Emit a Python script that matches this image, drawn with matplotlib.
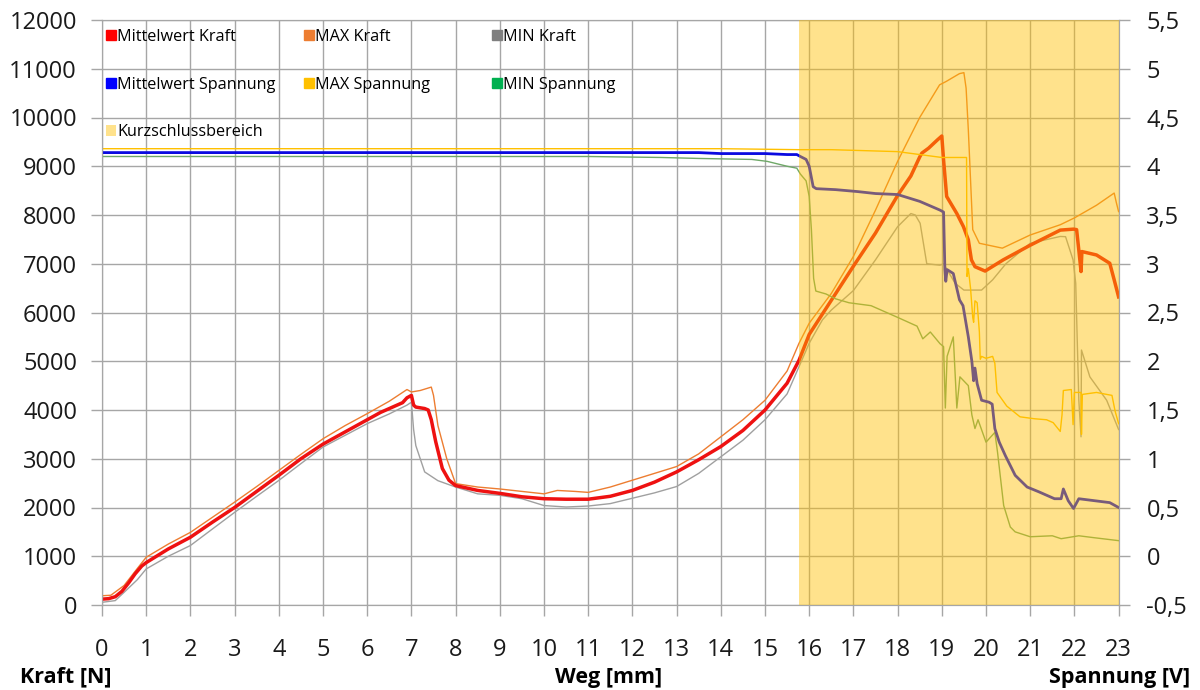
import matplotlib
matplotlib.use("Agg")
import matplotlib.pyplot as plt
from matplotlib.patches import Patch

plt.rcParams['font.family'] = ['Open Sans', 'DejaVu Sans']

# Kraft [N] over Weg [mm]
kraft_mw_x = [0, 0.15, 0.3, 0.45, 0.6, 0.75, 0.9, 1.0, 1.25, 1.5, 1.75, 2, 2.5, 3, 3.5, 4, 4.5, 5,
              5.5, 6, 6.3, 6.5, 6.8, 6.9, 7.0, 7.05, 7.1, 7.3, 7.38, 7.45, 7.55, 7.7, 7.85, 8, 8.5,
              9, 9.5, 10, 10.5, 11, 11.5, 12, 12.5, 13, 13.5, 14, 14.5, 15, 15.5, 15.77, 16, 16.5,
              17, 17.5, 18, 18.3, 18.5, 18.55, 18.7, 18.9, 19.0, 19.04, 19.11, 19.34, 19.49, 19.6,
              19.67, 19.75, 19.98, 20.39, 21, 21.68, 21.98, 22.05, 22.1, 22.15, 22.17, 22.5, 22.8,
              22.9, 23]
kraft_mw = [120, 130, 170, 280, 450, 640, 800, 870, 1010, 1150, 1270, 1390, 1700, 2000, 2330,
            2660, 3000, 3300, 3550, 3800, 3950, 4030, 4150, 4250, 4300, 4100, 4060, 4030, 4000,
            3800, 3350, 2800, 2560, 2450, 2350, 2290, 2220, 2180, 2170, 2170, 2230, 2350, 2520,
            2730, 2980, 3250, 3580, 4000, 4550, 5020, 5550, 6250, 6950, 7630, 8400, 8800, 9190,
            9270, 9370, 9540, 9620, 9130, 8380, 8030, 7760, 7490, 7080, 6940, 6850, 7080, 7380,
            7690, 7710, 7700, 7280, 6840, 7250, 7180, 7010, 6670, 6320]

kraft_max_x = [0, 0.2, 0.5, 0.8, 1.0, 1.5, 2, 2.5, 3, 3.5, 4, 4.5, 5, 5.5, 6, 6.5, 6.9, 7.0, 7.2,
               7.45, 7.5, 7.6, 7.8, 8, 8.5, 9, 9.5, 10, 10.3, 10.7, 11, 11.5, 12, 12.5, 13, 13.5,
               14, 14.5, 15, 15.5, 15.77, 16, 16.5, 17, 17.5, 18, 18.5, 18.95, 19.1, 19.4, 19.5,
               19.55, 19.6, 19.7, 19.85, 20.37, 21, 21.68, 22, 22.5, 22.9, 22.95, 23]
kraft_max = [190, 200, 400, 750, 980, 1250, 1490, 1800, 2110, 2430, 2760, 3090, 3410, 3680,
             3925, 4180, 4420, 4370, 4400, 4470, 4300, 3680, 3000, 2490, 2420, 2380, 2330, 2280,
             2350, 2330, 2310, 2420, 2560, 2700, 2840, 3100, 3450, 3800, 4200, 4800, 5370, 5780,
             6390, 7150, 8100, 9100, 10000, 10670, 10740, 10900, 10920, 10600, 9750, 7700, 7420,
             7320, 7590, 7800, 7940, 8200, 8450, 8250, 8070]

kraft_min_x = [0, 0.3, 0.5, 0.8, 1.0, 1.5, 2, 2.5, 3, 3.5, 4, 4.5, 5, 5.5, 6, 6.5, 6.9, 7.0, 7.05,
               7.1, 7.3, 7.6, 8, 8.5, 9, 9.5, 10, 10.5, 11, 11.5, 12, 12.5, 13, 13.5, 14, 14.5,
               15, 15.5, 15.77, 16, 16.3, 16.5, 17, 17.5, 18, 18.3, 18.4, 18.51, 18.66, 18.96,
               19.04, 19.3, 19.5, 19.9, 20.15, 20.45, 21, 21.68, 21.8, 21.97, 22.03, 22.06, 22.1,
               22.15, 22.16, 22.35, 22.73, 23]
kraft_min = [55, 90, 260, 520, 740, 1000, 1220, 1560, 1900, 2230, 2555, 2900, 3240, 3480, 3720,
             3920, 4100, 4160, 3600, 3270, 2730, 2550, 2420, 2280, 2250, 2180, 2040, 2010, 2030,
             2080, 2190, 2300, 2430, 2700, 3040, 3380, 3800, 4330, 4890, 5370, 5850, 6050, 6450,
             7080, 7760, 8030, 8000, 7830, 7000, 6970, 7000, 6600, 6460, 6460, 6670, 7000, 7420,
             7560, 7555, 7080, 6600, 5580, 4200, 3450, 5230, 4680, 4200, 3600]

# Spannung [V] over Weg [mm]
span_mw_x = [0, 11, 13.5, 14.0, 14.6, 15.0, 15.5, 15.72, 15.8, 15.93, 16.0, 16.09, 16.16, 16.6,
             17.1, 17.5, 18.0, 18.5, 18.96, 19.04, 19.07, 19.09, 19.12, 19.26, 19.4, 19.48,
             19.6, 19.68, 19.72, 19.75, 19.8, 19.9, 20.07, 20.14, 20.2, 20.3, 20.44, 20.66,
             20.93, 21.2, 21.55, 21.7, 21.75, 21.86, 21.98, 22.1, 22.45, 22.8, 23]
span_mw = [4.14, 4.14, 4.14, 4.13, 4.13, 4.13, 4.12, 4.12, 4.10, 4.07, 4.0, 3.79, 3.77, 3.76,
           3.74, 3.72, 3.71, 3.64, 3.55, 3.53, 2.94, 2.82, 2.94, 2.9, 2.63, 2.57, 2.25, 2.0,
           1.8, 1.93, 1.77, 1.6, 1.58, 1.56, 1.31, 1.17, 1.03, 0.83, 0.71, 0.66, 0.59, 0.59,
           0.69, 0.57, 0.49, 0.59, 0.57, 0.55, 0.5]

span_max_x = [0, 11, 14, 15.77, 16.5, 18, 19.0, 19.53, 19.56, 19.57, 19.6, 19.65, 19.7, 19.72,
              19.75, 19.8, 19.85, 19.87, 19.9, 20.0, 20.15, 20.2, 20.25, 20.47, 20.77, 21.1,
              21.37, 21.52, 21.68, 21.72, 21.75, 21.93, 21.97, 22.0, 22.15, 22.16, 22.18, 22.5,
              22.73, 22.85, 22.92, 23]
span_max = [4.18, 4.18, 4.18, 4.17, 4.17, 4.15, 4.09, 4.09, 4.09, 2.87, 2.95, 2.75, 2.45, 2.4,
            2.62, 2.6, 2.3, 2.02, 2.05, 2.03, 2.05, 1.98, 1.68, 1.54, 1.43, 1.41, 1.4, 1.37,
            1.28, 1.45, 1.7, 1.71, 1.35, 1.68, 1.68, 1.25, 1.66, 1.68, 1.66, 1.65, 1.49, 1.36]

span_min_x = [0, 11, 12.65, 13.5, 14.7, 15.05, 15.5, 15.72, 15.8, 15.93, 16.0, 16.05, 16.1,
              16.15, 16.38, 16.6, 16.9, 17.4, 18.0, 18.44, 18.57, 18.74, 18.96, 19.04, 19.08,
              19.12, 19.26, 19.34, 19.41, 19.6, 19.68, 19.75, 19.82, 20.0, 20.2, 20.26, 20.4,
              20.55, 20.66, 21.0, 21.5, 21.7, 22.1, 22.45, 23]
span_min = [4.10, 4.10, 4.09, 4.08, 4.07, 4.05, 4.0, 3.98, 3.92, 3.85, 3.69, 3.35, 2.85, 2.72,
            2.69, 2.64, 2.6, 2.57, 2.45, 2.36, 2.23, 2.3, 2.18, 2.15, 1.52, 2.05, 2.25, 1.52,
            1.84, 1.75, 1.45, 1.31, 1.4, 1.17, 1.27, 1.07, 0.52, 0.3, 0.25, 0.2, 0.21, 0.18,
            0.21, 0.19, 0.16]

kurzschluss = (15.77, 23)

x_ticks = list(range(0, 24))
kraft_ticks = list(range(0, 12001, 1000))
span_ticks = [-0.5, 0, 0.5, 1, 1.5, 2, 2.5, 3, 3.5, 4, 4.5, 5, 5.5]
span_ticklabels = ['-0,5', '0', '0,5', '1', '1,5', '2', '2,5', '3', '3,5', '4', '4,5', '5', '5,5']

grid_col = '#A6A6A6'

fig = plt.figure(figsize=(12, 6.9), dpi=100)
ax = fig.add_axes([102 / 1200, 85 / 690, 1016.6 / 1200, 585 / 690])
ax2 = ax.twinx()

# Kraft lines
ax.plot(kraft_max_x, kraft_max, color='#ED7D31', lw=1.0)
ax.plot(kraft_min_x, kraft_min, color='#A0A0A0', lw=1.0)
ax.plot(kraft_mw_x, kraft_mw, color='#EE1111', lw=2.5)

# Spannung lines
ax2.plot(span_max_x, span_max, color='#FFC000', lw=1.0)
ax2.plot(span_min_x, span_min, color='#6FA868', lw=1.0)
ax2.plot(span_mw_x, span_mw, color='#0A0AE0', lw=2.0)

# semi-transparent short-circuit area on top of everything
ax2.axvspan(*kurzschluss, facecolor='#FFC000', alpha=0.45, lw=0, zorder=5)

ax.set_xlim(0, 23)
ax.set_ylim(0, 12000)
ax2.set_ylim(-0.5, 5.5)
ax.set_xticks(x_ticks)
ax.set_yticks(kraft_ticks)
ax2.set_yticks(span_ticks)
ax2.set_yticklabels(span_ticklabels)

ax.grid(True, color=grid_col, lw=1.0)
ax.set_axisbelow(True)
for a in (ax, ax2):
    for s in a.spines.values():
        s.set_color(grid_col)
    a.tick_params(length=8, color=grid_col, labelsize=17, labelcolor='#1A1A1A', width=1)
ax.tick_params(axis='y', pad=10)
ax.tick_params(axis='x', pad=16)
ax2.tick_params(axis='y', pad=12)

# axis titles along the bottom
fig.text(20 / 1200, 1 - 677 / 690, 'Kraft [N]', fontsize=15.5, fontweight='bold',
         ha='left', va='center')
fig.text(609 / 1200, 1 - 677 / 690, 'Weg [mm]', fontsize=15.5, fontweight='bold',
         ha='center', va='center')
fig.text(1190 / 1200, 1 - 677 / 690, 'Spannung [V]', fontsize=15.5, fontweight='bold',
         ha='right', va='center')

# legend in three columns
col1 = [Patch(color='#FF0000'), Patch(color='#0000FF'), Patch(facecolor='#FFC000', alpha=0.45)]
col2 = [Patch(color='#ED7D31'), Patch(color='#FFC000')]
col3 = [Patch(color='#7F7F7F'), Patch(color='#00B050')]
lab1 = ['Mittelwert Kraft', 'Mittelwert Spannung', 'Kurzschlussbereich']
lab2 = ['MAX Kraft', 'MAX Spannung']
lab3 = ['MIN Kraft', 'MIN Spannung']
kw = dict(frameon=False, fontsize=11.7, handlelength=0.6, handleheight=0.6, handletextpad=0.1,
          labelspacing=1.95, borderpad=0, borderaxespad=0, loc='upper left')
top = (605 - 29) / 585
leg1 = ax2.legend(col1, lab1, bbox_to_anchor=((106 - 102) / 1016.6, top), **kw)
ax2.add_artist(leg1)
leg2 = ax2.legend(col2, lab2, bbox_to_anchor=((304 - 102) / 1016.6, top), **kw)
ax2.add_artist(leg2)
leg3 = ax2.legend(col3, lab3, bbox_to_anchor=((492 - 102) / 1016.6, top), **kw)
for lg in (leg1, leg2, leg3):
    lg.set_zorder(10)

fig.savefig('out.png', dpi=100)
